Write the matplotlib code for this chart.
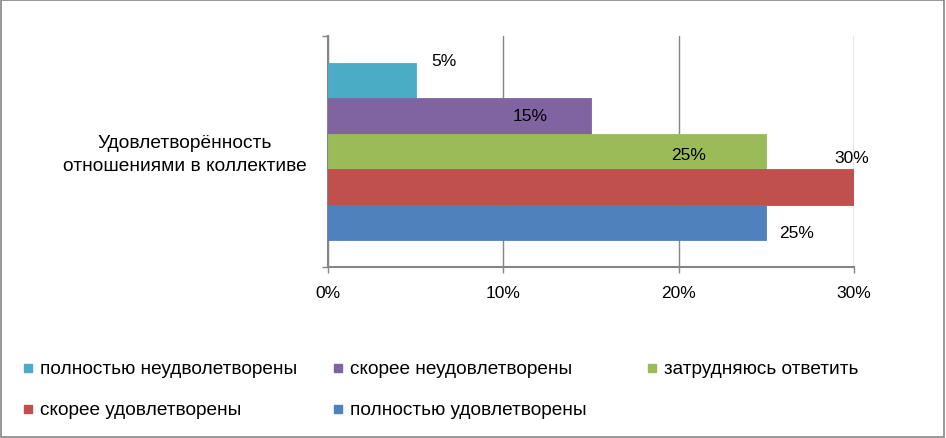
import matplotlib
matplotlib.use("Agg")
import matplotlib.pyplot as plt
from matplotlib.patches import Rectangle

plt.rcParams['font.family'] = ['Liberation Sans', 'DejaVu Sans']

category = "Удовлетворённость\nотношениями в коллективе"
series = ["полностью неудволетворены", "скорее неудовлетворены", "затрудняюсь ответить",
          "скорее удовлетворены", "полностью удовлетворены"]
values = [5, 15, 25, 30, 25]
colors = ["#4bacc6", "#8064a2", "#9bbb59", "#c0504d", "#4f81bd"]
xticks = [0, 10, 20, 30]
# label offsets (points) relative to bar end / bar centre
label_offsets = [(20, 14.5), (-44, 0), (-56, -2), (-1.5, 21), (22, -7)]

W, H = 946, 439
fig = plt.figure(figsize=(W/100, H/100), dpi=100)
fig.patches.append(Rectangle((0.001, 0.002), 0.997, 0.995, transform=fig.transFigure,
                             fill=False, edgecolor="#868686", linewidth=1.2))
ax = fig.add_axes([328/W, 1-268/H, (854-328)/W, (268-37)/H])

n = len(values)
h = 1.0 / (n + 1.5)
for i, (v, c) in enumerate(zip(values, colors)):
    y = (n - 1 - i) * h - (n - 1) * h / 2
    ax.barh(y, v, height=h, color=c, edgecolor=c, linewidth=0.6, zorder=3)
    dx, dy = label_offsets[i]
    ax.annotate(f"{v}%", (v, y), xytext=(dx, dy), textcoords="offset points",
                ha="center", va="center", fontsize=12.5, color="black", zorder=4)

ax.set_xlim(0, 30)
ax.set_ylim(-0.5, 0.5)
ax.set_xticks(xticks)
ax.set_xticklabels([f"{t}%" for t in xticks], fontsize=12.5)
ax.tick_params(axis='x', length=4, width=1, color="#868686", pad=9)
ax.set_yticks([-0.5, 0.5])
ax.set_yticklabels(["", ""])
ax.tick_params(axis='y', length=4, width=1, color="#868686")
ax.grid(axis='x', color="#868686", linewidth=1, zorder=0)
for s in ["top", "right"]:
    ax.spines[s].set_visible(False)
for s in ["left", "bottom"]:
    ax.spines[s].set_color("#868686")
    ax.spines[s].set_linewidth(1.5)

fig.text(185/W, 1-155/H, category, ha="center", va="center", fontsize=13.8,
         linespacing=1.5)

# legend, row-wise, 3 columns
col_x = [24, 334, 648]
row_y = [370, 411]
sq = 8
for i, (lab, c) in enumerate(zip(series, colors)):
    x0 = col_x[i % 3]
    y0 = row_y[i // 3]
    fig.patches.append(Rectangle((x0/W, 1-(y0+sq/2-1)/H), sq/W, sq/H, transform=fig.transFigure,
                                 facecolor=c, edgecolor=c))
    fig.text((x0+sq+8)/W, 1-y0/H, lab, ha="left", va="center", fontsize=13.7)

fig.savefig("out.png", dpi=100)
